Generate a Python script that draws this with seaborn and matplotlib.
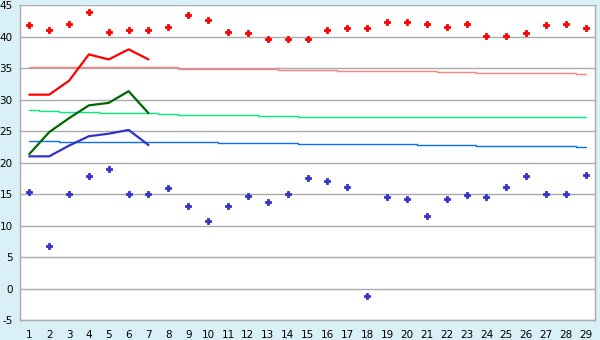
import matplotlib
matplotlib.use("Agg")
import matplotlib.pyplot as plt
import seaborn as sns
import pandas as pd

days = list(range(1, 30))

max_points = [41.8, 41.0, 42.1, 44.0, 40.8, 41.0, 41.0, 41.5, 43.4, 42.6,
              40.7, 40.55, 39.6, 39.6, 39.6, 41.0, 41.35, 41.35, 42.3, 42.3,
              42.1, 41.5, 42.1, 40.1, 40.1, 40.55, 41.8, 42.1, 41.35]
min_points = [15.3, 6.75, 15.0, 17.86, 19.0, 15.0, 15.0, 15.95, 13.1, 10.7,
              13.1, 14.68, 13.73, 15.0, 17.54, 17.06, 16.11, -1.19, 14.52, 14.2,
              11.5, 14.2, 14.84, 14.52, 16.11, 17.86, 15.0, 15.0, 18.0]

line_days = [1, 2, 3, 4, 5, 6, 7]
max_line = [30.8, 30.8, 33.0, 37.2, 36.4, 38.0, 36.4]
mean_line = [21.35, 24.84, 27.06, 29.1, 29.5, 31.35, 27.86]
min_line = [21.0, 21.0, 22.7, 24.2, 24.6, 25.2, 22.8]

normal_max = [35.15] * 8 + [34.85] * 5 + [34.7] * 3 + [34.5] * 5 + [34.35] * 2 + [34.2] * 5 + [34.05]
normal_mean = [28.33, 28.17, 28.0, 28.0, 27.86, 27.86, 27.86, 27.7] + [27.54] * 4 + [27.38] * 2 + [27.22] * 15
normal_min = [23.41] * 2 + [23.25] * 8 + [23.1] * 4 + [22.94] * 6 + [22.78] * 3 + [22.62] * 5 + [22.46]

y_ticks = [-5, 0, 5, 10, 15, 20, 25, 30, 35, 40, 45]

bg = "#d9f0f7"
sns.set_theme(style="white")
plt.rcParams['font.family'] = ['DejaVu Sans']
plt.rcParams['axes.unicode_minus'] = False

fig = plt.figure(figsize=(6.0, 3.4), dpi=100, facecolor=bg)
ax = fig.add_axes([20.3 / 600, 1 - 320 / 340, (595.3 - 20.3) / 600, (320 - 5.3) / 340])
ax.set_facecolor("white")

norm_df = pd.DataFrame({"day": days, "nmax": normal_max, "nmean": normal_mean, "nmin": normal_min})
sns.lineplot(data=norm_df, x="day", y="nmax", ax=ax, color="#ff8080", lw=1.0, drawstyle="steps-mid", zorder=3)
sns.lineplot(data=norm_df, x="day", y="nmean", ax=ax, color="#00ee77", lw=1.0, drawstyle="steps-mid", zorder=3)
sns.lineplot(data=norm_df, x="day", y="nmin", ax=ax, color="#0a6ff0", lw=1.0, drawstyle="steps-mid", zorder=3)

line_df = pd.DataFrame({"day": line_days, "mx": max_line, "mn": mean_line, "mi": min_line})
sns.lineplot(data=line_df, x="day", y="mx", ax=ax, color="#ff0000", lw=1.6, zorder=4)
sns.lineplot(data=line_df, x="day", y="mn", ax=ax, color="#006600", lw=1.6, zorder=4)
sns.lineplot(data=line_df, x="day", y="mi", ax=ax, color="#3333cc", lw=1.6, zorder=4)

pts_df = pd.DataFrame({"day": days, "max": max_points, "min": min_points})
sns.scatterplot(data=pts_df, x="day", y="max", ax=ax, color="#ff0000", marker="P", s=14, linewidth=0.6,
                edgecolor="#ff0000", zorder=5)
sns.scatterplot(data=pts_df, x="day", y="min", ax=ax, color="#3333cc", marker="P", s=14, linewidth=0.6,
                edgecolor="#3333cc", zorder=5)

ax.set_xlim(0.55, 29.48)
ax.set_ylim(-5, 45)
ax.set_xticks(days)
ax.set_yticks(y_ticks)
ax.set_xlabel("")
ax.set_ylabel("")
ax.yaxis.grid(True, color="#aaaaaa", lw=1.0)
ax.xaxis.grid(False)
ax.set_axisbelow(True)
for side in ["left", "right", "bottom", "top"]:
    ax.spines[side].set_color("#aaaaaa")
    ax.spines[side].set_linewidth(1.0)
ax.spines["top"].set_visible(False)
ax.tick_params(axis="both", which="major", direction="out", length=4, width=1, color="black",
               labelsize=7.5, labelcolor="black", pad=1.5)
ax.tick_params(axis="x", pad=3)

fig.savefig("out.png", dpi=100, facecolor=bg)
